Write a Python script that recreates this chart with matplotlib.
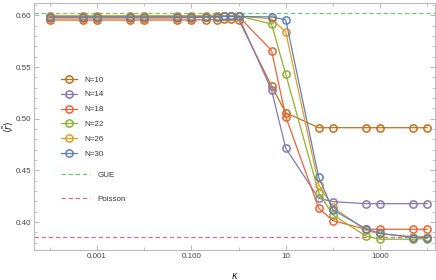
import numpy as np
import matplotlib.pyplot as plt
from matplotlib.lines import Line2D
from matplotlib.ticker import FixedLocator, NullFormatter

plt.rcParams['font.family'] = ['Liberation Sans', 'DejaVu Sans']

kappa = [1e-4, 5e-4, 1e-3, 5e-3, 0.01, 0.05, 0.1, 0.2, 0.35, 0.5, 0.7, 1,
         5, 10, 50, 100, 500, 1000, 5000, 10000]

r_N10 = [0.5955, 0.5955, 0.5955, 0.5955, 0.5955, 0.5955, 0.5955, 0.5958, 0.596, 0.5962, 0.5965, 0.596,
         0.5316, 0.5058, 0.4913, 0.4913, 0.4913, 0.4913, 0.4913, 0.4913]
r_N14 = [0.5985, 0.5985, 0.5985, 0.5985, 0.5985, 0.5985, 0.5985, 0.5988, 0.599, 0.599, 0.599, 0.599,
         0.5278, 0.4714, 0.4230, 0.4197, 0.4178, 0.4178, 0.4178, 0.4178]
r_N18 = [0.5975, 0.5975, 0.5975, 0.5975, 0.5975, 0.5975, 0.5978, 0.598, 0.5985, 0.599, 0.599, 0.599,
         0.5660, 0.5020, 0.4133, 0.4014, 0.3930, 0.3930, 0.3930, 0.3930]
r_N22 = [0.5995, 0.5995, 0.5995, 0.5995, 0.5995, 0.5995, 0.5995, 0.5995, 0.5995, 0.5995, 0.5995, 0.5995,
         0.5916, 0.5430, 0.4285, 0.4069, 0.3865, 0.3834, 0.3834, 0.3840]
r_N26 = [0.5995, 0.5995, 0.5995, 0.5995, 0.5995, 0.5995, 0.5995, 0.5995, 0.5995, 0.5995, 0.5995, 0.5995,
         0.5965, 0.5840, 0.4360, 0.4143, 0.3920, 0.3885, 0.3860, 0.3860]
r_N30 = [0.5985, 0.5985, 0.5985, 0.5985, 0.5985, 0.5985, 0.5985, 0.5985, 0.5988, 0.599, 0.599, 0.599,
         0.5985, 0.5957, 0.4433, 0.4117, 0.3935, 0.3891, 0.3850, 0.3850]

series = [('N=10', r_N10, '#C56E1A'),
          ('N=14', r_N14, '#8778B3'),
          ('N=18', r_N18, '#EB6235'),
          ('N=22', r_N22, '#8FB032'),
          ('N=26', r_N26, '#E19C24'),
          ('N=30', r_N30, '#5E81B5')]

gue = 0.602
poisson = 0.386

fig = plt.figure(figsize=(4.36, 2.80), dpi=100)
ax = fig.add_axes([0.078, 0.107, 0.92, 0.882])

xlim = (4.6e-5, 1.47e4)
ax.plot(xlim, [gue, gue], color='#6CC882', lw=0.9, ls=(0, (3.5, 2.2)))
ax.plot(xlim, [poisson, poisson], color='#D2708F', lw=0.9, ls=(0, (3.5, 2.2)))

handles = []
for label, vals, c in series:
    h, = ax.plot(kappa, vals, color=c, lw=0.9, marker='o', ms=5.2,
                 mfc='none', mec=c, mew=1.1, label=label)
    handles.append(h)

ax.set_xscale('log')
ax.set_xlim(*xlim)
ax.set_ylim(0.3729, 0.6119)

ax.xaxis.set_major_locator(FixedLocator([1e-3, 1e-1, 10, 1000]))
ax.set_xticklabels(['0.001', '0.100', '10', '1000'])
ax.xaxis.set_minor_locator(FixedLocator([1e-4, 1e-2, 1, 100, 1e4]))
ax.xaxis.set_minor_formatter(NullFormatter())
ax.set_yticks([0.40, 0.45, 0.50, 0.55, 0.60])
ax.set_yticklabels(['0.40', '0.45', '0.50', '0.55', '0.60'])
ax.yaxis.set_minor_locator(FixedLocator(np.arange(0.38, 0.611, 0.01)))

ax.tick_params(which='both', direction='in', top=True, right=True,
               colors='#aaaaaa', labelcolor='#444444', labelsize=5.8, pad=2)
ax.tick_params(which='major', length=3.5, width=0.6)
ax.tick_params(which='minor', length=2, width=0.5)
for s in ax.spines.values():
    s.set_color('#bbbbbb')
    s.set_linewidth(0.8)

ax.set_xlabel(r'$\kappa$', fontsize=7, color='#222222')
ax.xaxis.set_label_coords(0.5, -0.085)
ax.set_ylabel(r'$\langle\tilde{r}\rangle$', fontsize=7, color='#222222')
ax.yaxis.set_label_coords(-0.045, 0.5)

leg1 = ax.legend(handles=handles, loc='upper left', bbox_to_anchor=(0.068, 0.705),
                 frameon=False, fontsize=5.8, handlelength=1.9, handletextpad=1.0,
                 labelspacing=0.9, borderpad=0, borderaxespad=0)
for t in leg1.get_texts():
    t.set_color('#333333')
ax.add_artist(leg1)

ref_handles = [Line2D([], [], color='#6CC882', lw=0.9, ls=(0, (3.5, 2.2))),
               Line2D([], [], color='#D2708F', lw=0.9, ls=(0, (3.5, 2.2)))]
leg2 = ax.legend(handles=ref_handles, labels=['GUE', 'Poisson'], loc='upper left',
                 bbox_to_anchor=(0.068, 0.32), frameon=False, fontsize=5.8,
                 handlelength=3.6, handletextpad=0.9, labelspacing=2.1,
                 borderpad=0, borderaxespad=0)
for t in leg2.get_texts():
    t.set_color('#333333')

fig.savefig('out.png', dpi=100)
